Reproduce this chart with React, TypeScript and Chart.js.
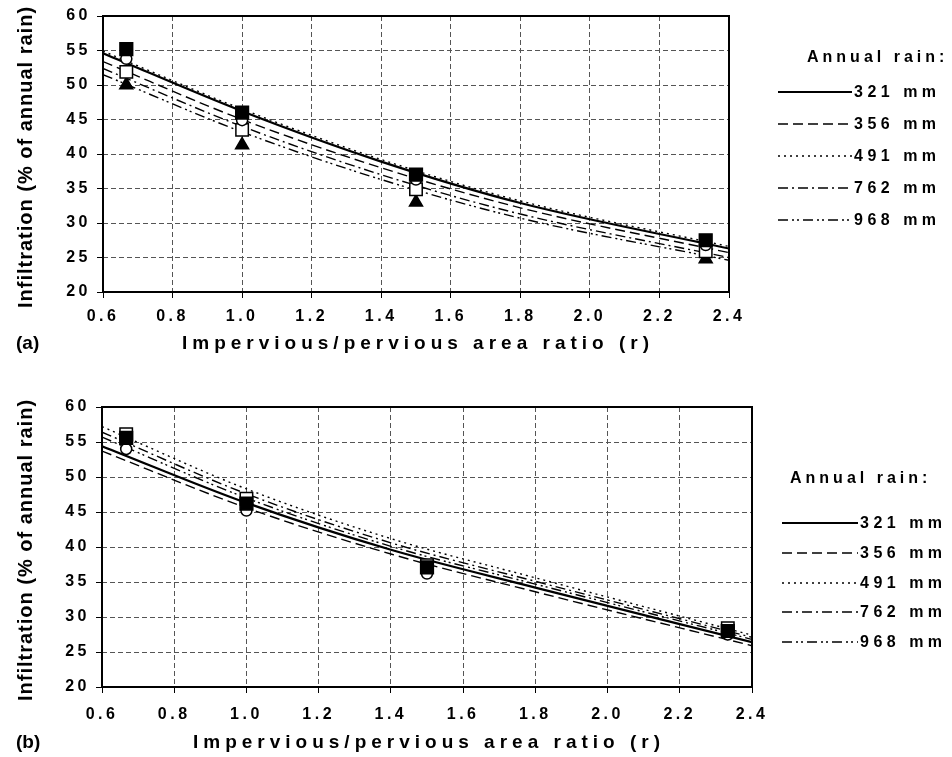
import React, { useEffect, useRef } from 'react';
import { Chart, registerables } from 'chart.js';

Chart.register(...registerables);

const FONT = '"Liberation Sans", Arial, Helvetica, sans-serif';

// ---------- data ----------
const SERIES_LABELS = ['321 mm', '356 mm', '491 mm', '762 mm', '968 mm'];
const LEGEND_TITLE = 'Annual rain:';
const Y_TITLE = 'Infiltration (% of annual rain)';
const X_TITLE = 'Impervious/pervious area ratio (r)';
const X_TICKS = [0.6, 0.8, 1.0, 1.2, 1.4, 1.6, 1.8, 2.0, 2.2, 2.4];
const Y_TICKS = [20, 25, 30, 35, 40, 45, 50, 55, 60];

// observed ratios r
const R_VALUES = [0.667, 1.0, 1.5, 2.333];
// x positions where the fitted curves were read
const FIT_X = [0.6, 1.0, 1.4, 1.8, 2.4];

// Panel (a) observed points
const A_321 = [55.2, 46.0, 37.0, 27.5];
const A_356 = [55.1, 45.9, 36.9, 27.4];
const A_491 = [53.8, 44.9, 36.3, 26.8];
const A_762 = [51.9, 43.5, 34.9, 25.9];
const A_968 = [50.0, 41.3, 33.0, 24.8];
// Panel (a) fitted curves
const A_FIT_321 = [54.6, 46.2, 38.9, 32.9, 26.3];
const A_FIT_356 = [53.4, 45.0, 38.0, 32.2, 25.7];
const A_FIT_491 = [54.9, 46.5, 39.2, 33.2, 26.6];
const A_FIT_762 = [52.4, 44.0, 37.0, 31.3, 25.0];
const A_FIT_968 = [51.5, 43.2, 36.3, 30.7, 24.6];

// Panel (b) observed points
const B_321 = [55.6, 46.2, 37.1, 28.0];
const B_356 = [55.3, 46.0, 36.9, 27.7];
const B_491 = [54.0, 45.2, 36.2, 27.5];
const B_762 = [56.1, 46.9, 37.4, 28.4];
const B_968 = [55.5, 46.1, 37.0, 27.9];
// Panel (b) fitted curves
const B_FIT_321 = [54.4, 46.3, 39.6, 34.2, 26.4];
const B_FIT_356 = [53.7, 45.6, 39.0, 33.6, 25.9];
const B_FIT_491 = [57.2, 48.3, 41.2, 35.6, 27.4];
const B_FIT_762 = [56.4, 47.6, 40.6, 35.1, 27.1];
const B_FIT_968 = [55.7, 47.0, 40.1, 34.7, 26.8];

// ---------- styles ----------
const STYLES = [
  { dash: [] as number[], width: 2.2, marker: 'rect', radius: 9, fill: '#000', order: 0 },
  { dash: [10, 5], width: 1.4, marker: 'circle', radius: 5, fill: '#000', order: 3 },
  { dash: [2, 4], width: 1.4, marker: 'circle', radius: 5.5, fill: '#fff', order: 1 },
  { dash: [10, 4, 2, 4], width: 1.4, marker: 'rect', radius: 8.8, fill: '#fff', order: 2 },
  { dash: [10, 4, 2, 3, 2, 4], width: 1.4, marker: 'triangle', radius: 7.5, fill: '#000', order: 4 },
];

type PanelSpec = {
  letter: string;
  markers: number[][];
  fits: number[][];
  height: number;
  padTop: number;
  padRight: number;
  yWidth: number;
  xHeight: number;
  xPad: number;
  titleBaseline: number;
  legendX: number;
  legendTitleY: number;
  legendRows: number[];
  legendLine: [number, number];
  triRadius: number;
};

const PANEL_A: PanelSpec = {
  letter: '(a)',
  markers: [A_321, A_356, A_491, A_762, A_968],
  fits: [A_FIT_321, A_FIT_356, A_FIT_491, A_FIT_762, A_FIT_968],
  height: 380,
  padTop: 16,
  padRight: 223,
  yWidth: 103,
  xHeight: 88,
  xPad: 9,
  titleBaseline: 349,
  legendX: 807,
  legendTitleY: 62,
  legendRows: [92, 124, 156, 188, 220],
  legendLine: [778, 852],
  triRadius: 7.5,
};

const PANEL_B: PanelSpec = {
  letter: '(b)',
  markers: [B_321, B_356, B_491, B_762, B_968],
  fits: [B_FIT_321, B_FIT_356, B_FIT_491, B_FIT_762, B_FIT_968],
  height: 377,
  padTop: 27,
  padRight: 200,
  yWidth: 102,
  xHeight: 70,
  xPad: 12,
  titleBaseline: 368,
  legendX: 790,
  legendTitleY: 103,
  legendRows: [143, 173, 203, 232, 262],
  legendLine: [782, 858],
  triRadius: 5.5,
};

function makeConfig(p: PanelSpec): any {
  const datasets: any[] = [];
  p.fits.forEach((fit, i) => {
    const s = STYLES[i];
    datasets.push({
      label: SERIES_LABELS[i] + ' fit',
      data: FIT_X.map((x, j) => ({ x, y: fit[j] })),
      borderColor: '#000',
      borderWidth: s.width,
      borderDash: s.dash,
      pointRadius: 0,
      cubicInterpolationMode: 'monotone',
      fill: false,
      order: 20 + i,
    });
  });
  p.markers.forEach((vals, i) => {
    const s = STYLES[i];
    datasets.push({
      label: SERIES_LABELS[i],
      data: R_VALUES.map((x, j) => ({ x, y: vals[j] })),
      showLine: false,
      pointStyle: s.marker,
      pointRadius: s.marker === 'triangle' ? p.triRadius : s.radius,
      backgroundColor: s.fill,
      borderColor: '#000',
      pointBorderWidth: 1.5,
      order: s.order,
    });
  });

  const tickFont = { family: FONT, weight: 'bold' as const, size: 16 };
  const gridCfg = { color: '#555', lineWidth: 1, tickLength: 6, tickColor: '#000', drawTicks: true };

  const decor = {
    id: 'decor',
    beforeDraw(chart: any) {
      chart.ctx.letterSpacing = '3.5px';
    },
    beforeDatasetsDraw(chart: any) {
      chart.ctx.letterSpacing = '0px';
    },
    afterDraw(chart: any) {
      const ctx = chart.ctx;
      const ca = chart.chartArea;
      ctx.save();
      ctx.letterSpacing = '0px';
      ctx.setLineDash([]);
      ctx.strokeStyle = '#000';
      ctx.lineWidth = 2;
      ctx.strokeRect(ca.left, ca.top, ca.right - ca.left, ca.bottom - ca.top);

      ctx.fillStyle = '#000';
      // y title
      ctx.save();
      ctx.translate(26, (ca.top + ca.bottom) / 2 + 3);
      ctx.rotate(-Math.PI / 2);
      ctx.font = `bold 20px ${FONT}`;
      ctx.letterSpacing = '1px';
      ctx.textAlign = 'center';
      ctx.textBaseline = 'middle';
      ctx.fillText(Y_TITLE, 0, 0);
      ctx.restore();

      // x title
      ctx.save();
      ctx.font = `bold 19px ${FONT}`;
      ctx.letterSpacing = '5px';
      ctx.textAlign = 'center';
      ctx.textBaseline = 'alphabetic';
      ctx.fillText(X_TITLE, (ca.left + ca.right) / 2 + 2, p.titleBaseline);
      ctx.restore();

      // panel letter
      ctx.save();
      ctx.font = `bold 19px ${FONT}`;
      ctx.textAlign = 'left';
      ctx.textBaseline = 'alphabetic';
      ctx.fillText(p.letter, 16, p.titleBaseline);
      ctx.restore();

      // legend
      ctx.save();
      ctx.font = `bold 16px ${FONT}`;
      ctx.letterSpacing = '4px';
      ctx.textAlign = 'left';
      ctx.textBaseline = 'alphabetic';
      ctx.fillText(LEGEND_TITLE, p.legendX, p.legendTitleY);
      ctx.letterSpacing = '4.5px';
      ctx.textBaseline = 'middle';
      SERIES_LABELS.forEach((lab, i) => {
        const s = STYLES[i];
        const y = p.legendRows[i];
        ctx.beginPath();
        ctx.setLineDash(s.dash);
        ctx.lineWidth = s.width;
        ctx.moveTo(p.legendLine[0], y);
        ctx.lineTo(p.legendLine[1], y);
        ctx.stroke();
        ctx.setLineDash([]);
        ctx.fillText(lab, p.legendLine[1] + 2, y + 1);
      });
      ctx.restore();
      ctx.restore();
    },
  };

  return {
    type: 'line',
    data: { datasets },
    options: {
      responsive: false,
      maintainAspectRatio: false,
      animation: false,
      layout: { padding: { left: 0, right: p.padRight, top: p.padTop, bottom: 0 } },
      plugins: { legend: { display: false }, tooltip: { enabled: false } },
      scales: {
        x: {
          type: 'linear',
          min: 0.6,
          max: 2.4,
          afterBuildTicks: (s: any) => {
            s.ticks = X_TICKS.map((v) => ({ value: v }));
          },
          afterFit: (s: any) => {
            s.height = p.xHeight;
          },
          ticks: {
            callback: (v: any) => Number(v).toFixed(1),
            font: tickFont,
            color: '#000',
            padding: p.xPad,
            maxRotation: 0,
            autoSkip: false,
          },
          grid: gridCfg,
          border: { display: false, dash: [5, 3] },
        },
        y: {
          type: 'linear',
          min: 20,
          max: 60,
          afterBuildTicks: (s: any) => {
            s.ticks = Y_TICKS.map((v) => ({ value: v }));
          },
          afterFit: (s: any) => {
            s.width = p.yWidth;
          },
          ticks: {
            callback: (v: any) => String(v),
            font: tickFont,
            color: '#000',
            padding: 6,
          },
          grid: gridCfg,
          border: { display: false, dash: [5, 3] },
        },
      },
    },
    plugins: [decor],
  };
}

export default function App() {
  const refA = useRef<HTMLCanvasElement | null>(null);
  const refB = useRef<HTMLCanvasElement | null>(null);

  useEffect(() => {
    const charts: Chart[] = [];
    if (refA.current) charts.push(new Chart(refA.current, makeConfig(PANEL_A)));
    if (refB.current) charts.push(new Chart(refB.current, makeConfig(PANEL_B)));
    return () => charts.forEach((c) => c.destroy());
  }, []);

  return (
    <div style={{ position: 'absolute', left: 0, top: 0, width: 952, height: 757, background: '#fff' }}>
      <canvas
        ref={refA}
        width={952}
        height={PANEL_A.height}
        style={{ position: 'absolute', left: 0, top: 0, width: 952, height: PANEL_A.height, display: 'block' }}
      />
      <canvas
        ref={refB}
        width={952}
        height={PANEL_B.height}
        style={{ position: 'absolute', left: 0, top: PANEL_A.height, width: 952, height: PANEL_B.height, display: 'block' }}
      />
    </div>
  );
}
